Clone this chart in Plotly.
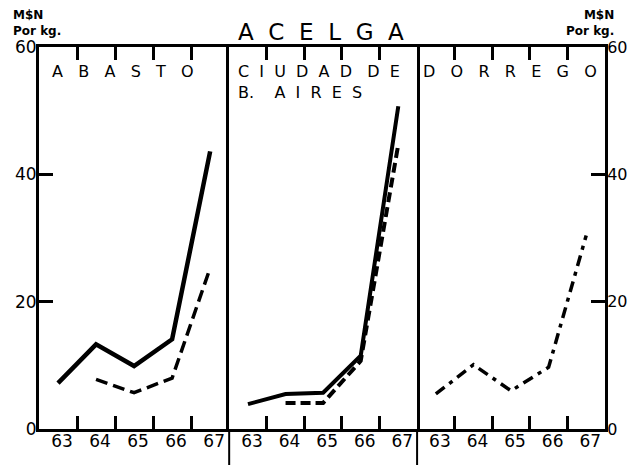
import plotly.graph_objects as go

years = [63, 64, 65, 66, 67]
year_labels = ["63", "64", "65", "66", "67"]
year_bounds = [63.5, 64.5, 65.5, 66.5]
y_ticks = [0, 20, 40, 60]
y_tick_labels = ["0", "20", "40", "60"]

abasto_solid = [7.2, 13.3, 9.9, 14.1, 43.6]
abasto_dashed = [None, 7.8, 5.7, 8.0, 25.3]
ciudad_solid = [3.9, 5.5, 5.7, 11.5, 50.7]
ciudad_dashed = [None, 4.1, 4.1, 10.7, 44.7]
dorrego = [5.5, 10.1, 6.0, 9.7, 30.4]

panel_names = ["A   B   A   S   T   O",
               "C  I  U  D  A  D   D  E<br>B.    A  I  R  E  S",
               "D   O   R   R   E   G   O"]
panel_label_x = [0.06, 0.035, 0.02]

FONT = "DejaVu Sans"
BLK = "black"

fig = go.Figure()

def add(x, y, xa, ya, dash, width):
    fig.add_trace(go.Scatter(x=x, y=y, xaxis=xa, yaxis=ya, mode="lines",
                             line=dict(color=BLK, width=width, dash=dash),
                             connectgaps=False, showlegend=False, hoverinfo="skip"))

add(years, abasto_solid, "x", "y", "solid", 4.5)
add(years, abasto_dashed, "x", "y", "12px,6px", 3.5)
add(years, ciudad_solid, "x2", "y2", "solid", 4)
add(years, ciudad_dashed, "x2", "y2", "10px,5px", 4)
add(years, dorrego, "x3", "y3", "11px,6px,4px,6px", 3.5)

d1, d2 = 0.336, 0.668
doms = [[0.0, d1], [d1, d2], [d2, 1.0]]
for i, d in enumerate(doms):
    n = "" if i == 0 else str(i + 1)
    # main axis: tick marks at year boundaries (inside, top and bottom)
    fig.layout["xaxis" + n] = dict(
        domain=d, range=[62.5, 67.5], anchor="y" + n,
        tickmode="array", tickvals=year_bounds, showticklabels=False,
        ticks="inside", ticklen=13, tickwidth=2.5, tickcolor=BLK,
        showline=True, linecolor=BLK, linewidth=3, mirror="allticks",
        showgrid=False, zeroline=False, automargin=False,
    )
    # overlay axis: year labels
    lab = str(i + 4)
    fig.layout["xaxis" + lab] = dict(
        domain=d, range=[62.5, 67.5], anchor="y" + n, overlaying="x" + n, side="bottom",
        tickmode="array", tickvals=years, ticktext=year_labels, ticks="",
        showline=False, showgrid=False, zeroline=False, automargin=False,
        ticklabelstandoff=0, ticklabelshift=4,
        tickfont=dict(family=FONT, size=17, color=BLK),
    )
    fig.add_trace(go.Scatter(x=years, y=[None] * len(years), xaxis="x" + lab, yaxis="y" + n,
                             mode="lines", showlegend=False, hoverinfo="skip"))
    fig.layout["yaxis" + n] = dict(
        range=[0, 60], anchor="x" + n,
        tickmode="array", tickvals=y_ticks, ticktext=y_tick_labels,
        showticklabels=(i != 1), side="right" if i == 2 else "left",
        ticks="inside" if i != 1 else "", ticklen=14, tickwidth=2.5, tickcolor=BLK,
        showline=True, linecolor=BLK, linewidth=2.5 if i == 1 else 3,
        mirror=(i == 1),
        showgrid=False, zeroline=False, automargin=False,
        ticklabelstandoff=-4,
        tickfont=dict(family=FONT, size=16 if i == 2 else 17, color=BLK),
    )

# panel labels
for i, name in enumerate(panel_names):
    n = "" if i == 0 else str(i + 1)
    fig.add_annotation(text=name, xref="x" + n + " domain", yref="y" + n + " domain",
                       x=panel_label_x[i], y=0.965,
                       xanchor="left", yanchor="top", showarrow=False, align="left",
                       font=dict(family=FONT, size=16, color=BLK))

# divider extensions below axis
for xd in [d1, d2]:
    fig.add_shape(type="line", xref="paper", yref="paper", x0=xd, x1=xd, y0=-0.12, y1=0,
                  line=dict(color=BLK, width=2))

# title & unit labels
fig.add_annotation(text="A  C  E  L  G  A", xref="paper", yref="paper", x=0.498, y=1.0,
                   yshift=0, xanchor="center", yanchor="bottom", showarrow=False,
                   font=dict(family=FONT, size=23, color=BLK))
for xp, xs, al in [(0, -27, "left"), (1.0, -40, "right")]:
    fig.add_annotation(text="<b>M$N<br>Por kg.</b>", xref="paper", yref="paper", x=xp, y=1.0,
                       xshift=xs, yshift=8, xanchor="left", yanchor="bottom", showarrow=False,
                       align=al, borderpad=0,
                       font=dict(family=FONT, size=12, color=BLK))

# page body has an 8px default margin, so margins are offset accordingly
fig.update_layout(width=644, height=465, margin=dict(l=31, r=47, t=39, b=44, autoexpand=False),
                  paper_bgcolor="white", plot_bgcolor="white", showlegend=False)

fig.write_html("out.html")
